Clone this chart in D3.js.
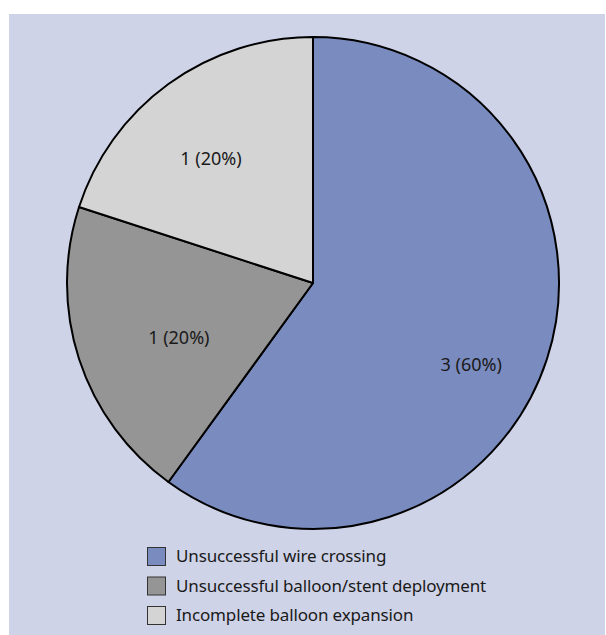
<!DOCTYPE html>
<html>
<head>
<meta charset="utf-8">
<script src="https://cdn.jsdelivr.net/npm/d3@7"></script>
<style>
  html, body { margin: 0; padding: 0; background: #ffffff; }
  svg { display: block; }
  text { font-family: "Noto Sans", "Open Sans", sans-serif; fill: #1a1a1a; }
</style>
</head>
<body>
<svg id="chart" width="606" height="635"></svg>
<script>
// Failure reasons and their counts
const categories = [
  "Unsuccessful wire crossing",
  "Unsuccessful balloon/stent deployment",
  "Incomplete balloon expansion"
];
const counts = [3, 1, 1];
const percents = [60, 20, 20];
const sliceColors = ["#7a8bbf", "#959595", "#d4d4d4"];
// small label nudges (px) applied to each slice's label anchor
const labelNudge = [[6, 32], [18, 5], [-8, 5]];

const W = 606, H = 635;
const svg = d3.select("#chart");

// panel background
svg.append("rect")
  .attr("x", 9).attr("y", 14)
  .attr("width", W - 10).attr("height", H - 14)
  .attr("fill", "#cfd3e7");

const cx = 313, cy = 283, R = 246;

const data = categories.map((c, i) => ({ name: c, count: counts[i], pct: percents[i], color: sliceColors[i], nudge: labelNudge[i] }));

const pie = d3.pie().sort(null).value(d => d.count);
const arc = d3.arc().innerRadius(0).outerRadius(R);
const labelArc = d3.arc().innerRadius(160).outerRadius(160);

const g = svg.append("g").attr("transform", `translate(${cx},${cy})`);
const arcs = pie(data);

g.selectAll("path.slice")
  .data(arcs)
  .join("path")
  .attr("class", "slice")
  .attr("d", arc)
  .attr("fill", d => d.data.color)
  .attr("stroke", "#000")
  .attr("stroke-width", 2)
  .attr("stroke-linejoin", "round");

g.selectAll("text.lbl")
  .data(arcs)
  .join("text")
  .attr("class", "lbl")
  .attr("x", d => labelArc.centroid(d)[0] + d.data.nudge[0])
  .attr("y", d => labelArc.centroid(d)[1] + d.data.nudge[1])
  .attr("dy", "0.35em")
  .attr("text-anchor", "middle")
  .style("font-size", "18px")
  .text(d => `${d.data.count} (${d.data.pct}%)`);

// legend
const legend = svg.append("g").attr("transform", "translate(147,547)");
const rowH = 29.5;
const rows = legend.selectAll("g.row")
  .data(data)
  .join("g")
  .attr("class", "row")
  .attr("transform", (d, i) => `translate(0,${i * rowH})`);

rows.append("rect")
  .attr("x", 0.5).attr("y", 0.5)
  .attr("width", 18).attr("height", 18)
  .attr("fill", d => d.color)
  .attr("stroke", "#333")
  .attr("stroke-width", 1);

rows.append("text")
  .attr("x", 29)
  .attr("y", 9.5)
  .attr("dy", "0.35em")
  .style("font-size", "17px")
  .style("letter-spacing", "-0.15px")
  .text(d => d.name);
</script>
</body>
</html>
